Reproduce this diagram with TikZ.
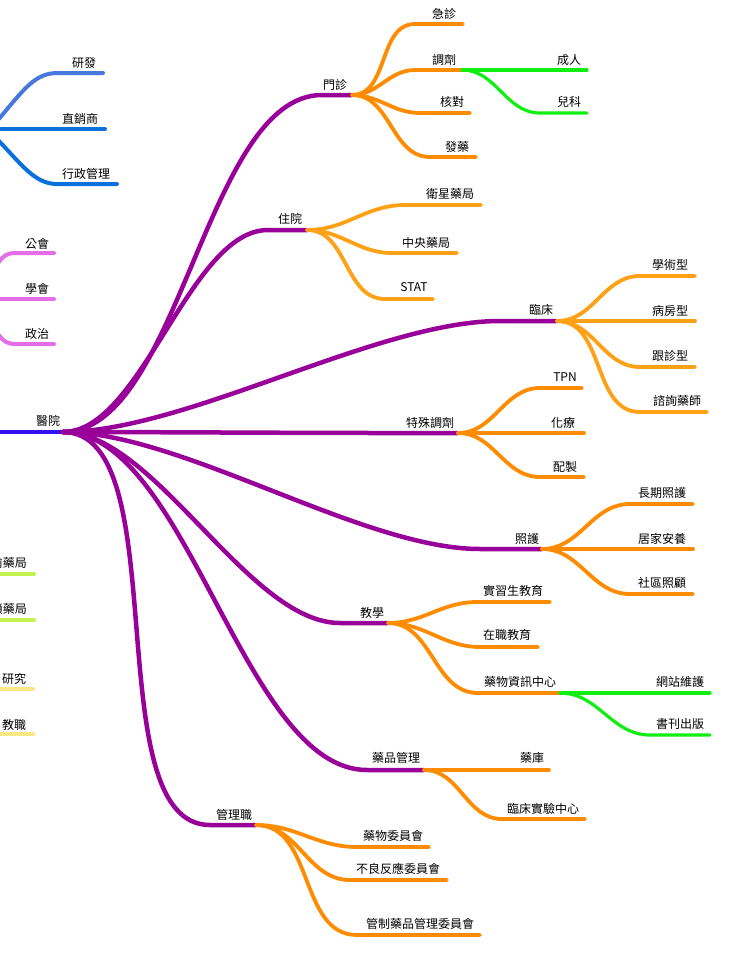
\documentclass[tikz,border=0pt]{standalone}
\usepackage{fontspec}
\setmainfont{Noto Sans CJK TC}
\definecolor{purp}{HTML}{990099}
\definecolor{rootblue}{HTML}{3311EE}
\definecolor{orgA}{HTML}{FF8C00}
\definecolor{orgB}{HTML}{FFA116}
\definecolor{grn}{HTML}{11EE11}
\definecolor{blueA}{HTML}{4878DC}
\definecolor{blueB}{HTML}{0A70DC}
\definecolor{pinkc}{HTML}{E46EE8}
\definecolor{limec}{HTML}{C2F24E}
\definecolor{yelc}{HTML}{FBE785}
\newcommand{\twig}[7]{%
  \coordinate (#3b) at #4;
  \coordinate (#3) at #5;
  \draw[#1] (#2) to[out=0,in=180] (#3b) -- (#3);
  \node[lbl] (#3t) at #6 {#7};
}
\begin{document}
\begin{tikzpicture}[x=1pt,y=-1pt,
  lbl/.style={inner sep=0pt,font=\fontsize{12}{14}\selectfont},
  brpur/.style={purp,line width=4.5pt,line cap=round,looseness=0.7},
  brorg/.style={orgA,line width=3.8pt,line cap=round},
  brorgl/.style={orgB,line width=3.8pt,line cap=round},
  brgrn/.style={grn,line width=3.2pt,line cap=round},
  brblueA/.style={blueA,line width=4pt,line cap=round},
  brblueB/.style={blueB,line width=4pt,line cap=round},
  brpink/.style={pinkc,line width=4pt,line cap=round},
  brlime/.style={limec,line width=4pt,line cap=round},
  bryel/.style={yelc,line width=4pt,line cap=round},
  rootln/.style={rootblue,line width=4.5pt}]
\useasboundingbox (0,0) rectangle (729,961);
\clip (0,0) rectangle (729,961);
\fill[white] (0,0) rectangle (729,961);

% root
\coordinate (rootL) at (-5,432);
\coordinate (rootH) at (63,432);
\draw[rootln] (rootL) -- (rootH);
\node[lbl] (root) at (48,421) {醫院};

% main branches
\twig{brpur}{rootH}{mz}{(322,95)}{(352,95)}{(335,85)}{門診}
\twig{brpur}{rootH}{zy}{(268,230)}{(307,230)}{(290,219)}{住院}
\twig{brpur}{rootH}{lc}{(500,321)}{(557,321)}{(541,310)}{臨床}
\twig{brpur}{rootH}{ts}{(380,433)}{(458,433)}{(430,423)}{特殊調劑}
\twig{brpur}{rootH}{hc}{(480,549)}{(542,549)}{(527,539)}{照護}
\twig{brpur}{rootH}{jx}{(340,623)}{(388,623)}{(372,613)}{教學}
\twig{brpur}{rootH}{yp}{(367,770)}{(424,770)}{(396,758)}{藥品管理}
\twig{brpur}{rootH}{gl}{(210,825)}{(256,825)}{(234,815)}{管理職}

% 門診
\twig{brorg}{mz}{jz}{(415,24)}{(463,24)}{(444,14)}{急診}
\twig{brorg}{mz}{tj}{(415,70)}{(462,70)}{(444,60)}{調劑}
\twig{brorg}{mz}{hd}{(420,113)}{(470,113)}{(452,102)}{核對}
\twig{brorg}{mz}{fy}{(430,157)}{(476,157)}{(457,147)}{發藥}
\twig{brgrn}{tj}{cr}{(540,70)}{(587,70)}{(569,60)}{成人}
\twig{brgrn}{tj}{ek}{(540,113)}{(587,113)}{(569,102)}{兒科}

% 住院
\twig{brorgl}{zy}{wx}{(405,205)}{(481,205)}{(450,194)}{衛星藥局}
\twig{brorgl}{zy}{zyj}{(392,253)}{(457,253)}{(426,243)}{中央藥局}
\twig{brorgl}{zy}{st}{(385,299)}{(433,299)}{(414,287)}{STAT}

% 臨床
\twig{brorgl}{lc}{xs}{(640,276)}{(695,276)}{(670,265)}{學術型}
\twig{brorgl}{lc}{bf}{(640,321)}{(695,321)}{(670,311)}{病房型}
\twig{brorgl}{lc}{gz}{(640,367)}{(695,367)}{(670,356)}{跟診型}
\twig{brorgl}{lc}{zx}{(640,412)}{(707,412)}{(677,401)}{諮詢藥師}

% 特殊調劑
\twig{brorg}{ts}{tpn}{(540,388)}{(582,388)}{(565,377)}{TPN}
\twig{brorg}{ts}{hl}{(540,433)}{(584,433)}{(563,423)}{化療}
\twig{brorg}{ts}{pz}{(540,477)}{(584,477)}{(565,467)}{配製}

% 照護
\twig{brorg}{hc}{cq}{(630,504)}{(693,504)}{(662,493)}{長期照護}
\twig{brorg}{hc}{jj}{(630,549)}{(693,549)}{(662,539)}{居家安養}
\twig{brorg}{hc}{sq}{(630,594)}{(693,594)}{(662,583)}{社區照顧}

% 教學
\twig{brorg}{jx}{sx}{(477,602)}{(550,602)}{(513,591)}{實習生教育}
\twig{brorg}{jx}{zz}{(480,647)}{(538,647)}{(507,635)}{在職教育}
\twig{brorg}{jx}{zxz}{(478,693)}{(560,693)}{(520,682)}{藥物資訊中心}
\twig{brgrn}{zxz}{wz}{(640,693)}{(710,693)}{(680,682)}{網站維護}
\twig{brgrn}{zxz}{sk}{(650,735)}{(710,735)}{(680,724)}{書刊出版}

% 藥品管理
\twig{brorg}{yp}{yk}{(500,770)}{(549,770)}{(532,758)}{藥庫}
\twig{brorg}{yp}{sy}{(502,819)}{(585,819)}{(543,809)}{臨床實驗中心}

% 管理職
\twig{brorg}{gl}{ywh}{(357,847)}{(429,847)}{(393,836)}{藥物委員會}
\twig{brorg}{gl}{blf}{(350,880)}{(447,880)}{(398,869)}{不良反應委員會}
\twig{brorg}{gl}{gzy}{(357,935)}{(480,935)}{(420,924)}{管制藥品管理委員會}

% left partial branches
\coordinate (bl1) at (-2,120);
\coordinate (bl1b) at (58,73);
\coordinate (bl1e) at (103,73);
\draw[brblueA] (bl1) .. controls (25,88) and (35,73) .. (bl1b) -- (bl1e);
\node[lbl] (yf) at (84,63) {研發};
\coordinate (bl2) at (-5,129);
\coordinate (bl2e) at (105,129);
\draw[brblueB] (bl2) -- (bl2e);
\node[lbl] (zxs) at (80,119) {直銷商};
\coordinate (bl3) at (-2,140);
\coordinate (bl3b) at (57,184);
\coordinate (bl3e) at (117,184);
\draw[brblueB] (bl3) .. controls (22,165) and (35,184) .. (bl3b) -- (bl3e);
\node[lbl] (xz) at (86,174) {行政管理};

\coordinate (pk1) at (-2,263);
\coordinate (pk1b) at (15,253);
\coordinate (pk1e) at (54,253);
\draw[brpink] (pk1) .. controls (4,255) and (8,253) .. (pk1b) -- (pk1e);
\node[lbl] (gh) at (37,244) {公會};
\coordinate (pk2) at (-5,299);
\coordinate (pk2e) at (54,299);
\draw[brpink] (pk2) -- (pk2e);
\node[lbl] (xh) at (37,289) {學會};
\coordinate (pk3) at (-2,334);
\coordinate (pk3b) at (15,344);
\coordinate (pk3e) at (54,344);
\draw[brpink] (pk3) .. controls (4,342) and (8,344) .. (pk3b) -- (pk3e);
\node[lbl] (zz2) at (37,334) {政治};

\coordinate (lm1) at (-5,574);
\coordinate (lm1e) at (34,574);
\draw[brlime] (lm1) -- (lm1e);
\node[lbl,anchor=east] (mq) at (27,563) {門前藥局};
\coordinate (lm2) at (-5,620);
\coordinate (lm2e) at (34,620);
\draw[brlime] (lm2) -- (lm2e);
\node[lbl,anchor=east] (ls) at (27,609) {連鎖藥局};

\coordinate (ye1) at (-5,689);
\coordinate (ye1e) at (33,689);
\draw[bryel] (ye1) -- (ye1e);
\node[lbl] (yj) at (14,679) {研究};
\coordinate (ye2) at (-5,734);
\coordinate (ye2e) at (33,734);
\draw[bryel] (ye2) -- (ye2e);
\node[lbl] (jz2) at (14,725) {教職};
\end{tikzpicture}
\end{document}
